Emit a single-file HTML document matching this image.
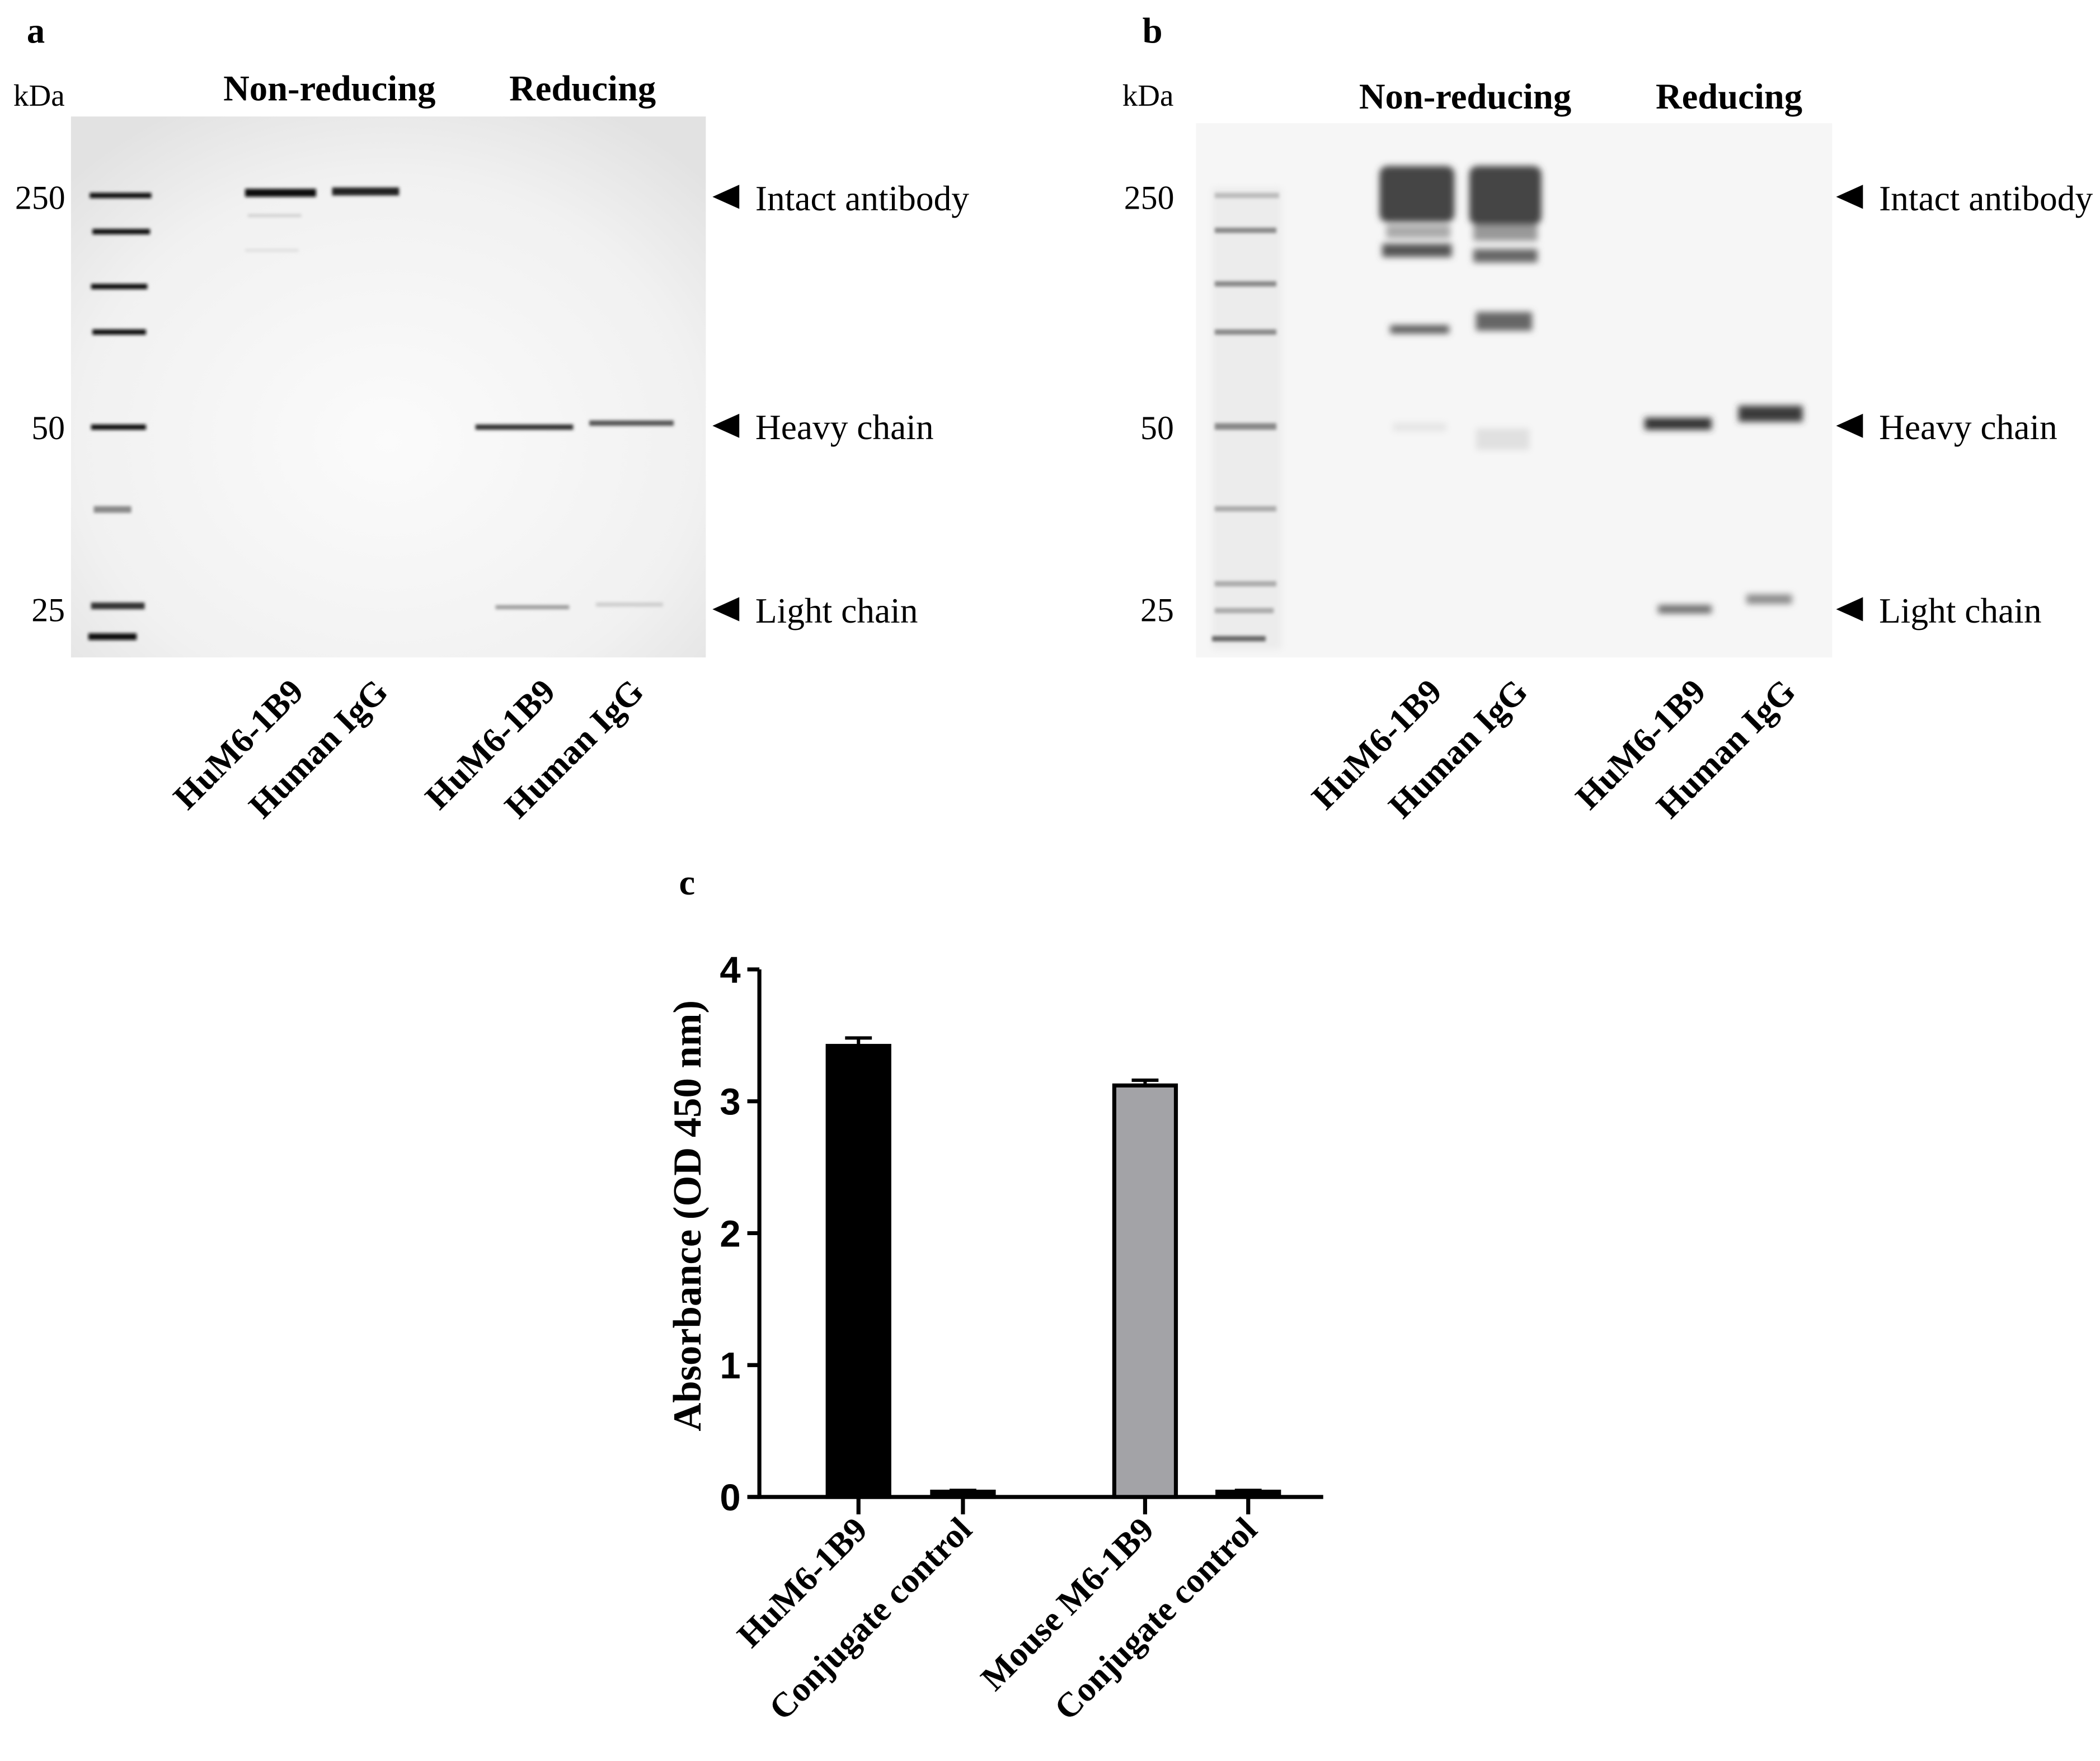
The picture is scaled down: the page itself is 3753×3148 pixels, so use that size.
<!DOCTYPE html>
<html><head><meta charset="utf-8"><style>
html,body{margin:0;padding:0;background:#fff}
svg{display:block}
.serif{font-family:"Liberation Serif",serif}
.sans{font-family:"Liberation Sans",sans-serif}
</style></head><body>
<svg width="3753" height="3148" viewBox="0 0 1568 1315.2" preserveAspectRatio="none" xmlns="http://www.w3.org/2000/svg">
<defs>
<radialGradient id="gA" cx="0.5" cy="0.6" r="0.7"><stop offset="0" stop-color="#fbfbfb"/><stop offset="0.7" stop-color="#f1f1f1"/><stop offset="1" stop-color="#e2e2e2"/></radialGradient>
<filter id="bl"><feGaussianBlur stdDeviation="1.2"/></filter>
<filter id="bl2"><feGaussianBlur stdDeviation="2.5"/></filter>
</defs>
<!-- Panel a -->
<g>
<text x="20" y="32" class="serif" font-weight="bold" font-size="27">a</text>
<text x="10" y="79" class="serif" font-size="23">kDa</text>
<text x="246" y="75" class="serif" font-weight="bold" font-size="27" text-anchor="middle">Non-reducing</text>
<text x="435" y="75" class="serif" font-weight="bold" font-size="27" text-anchor="middle">Reducing</text>
<rect x="53" y="87" width="474" height="404" fill="url(#gA)"/>
<g filter="url(#bl)" fill="#111">
<rect x="67" y="144" width="46" height="4"/><rect x="69" y="171" width="43" height="4"/>
<rect x="68" y="212" width="42" height="4"/><rect x="69" y="246" width="40" height="4"/>
<rect x="68" y="317" width="41" height="4"/><rect x="70" y="378" width="28" height="5" fill="#888"/>
<rect x="68" y="450" width="40" height="5" fill="#333"/><rect x="66" y="473" width="36" height="5"/>
<rect x="183" y="141" width="53" height="6"/><rect x="248" y="140" width="50" height="6" fill="#222"/>
<rect x="185" y="160" width="40" height="2" fill="#ccc"/><rect x="183" y="186" width="40" height="2" fill="#ddd"/>
<rect x="355" y="317" width="73" height="4" fill="#333"/><rect x="440" y="314" width="63" height="4" fill="#555"/>
<rect x="370" y="452" width="55" height="3" fill="#999"/><rect x="445" y="450" width="50" height="3" fill="#ccc"/>
</g>
<g class="serif" font-size="25" text-anchor="middle">
<text x="30" y="156">250</text>
<text x="36" y="328">50</text>
<text x="36" y="464">25</text>
</g>
<g class="serif" font-size="26.5">
<path d="M532 147 L552 138 L552 156Z"/><text x="564" y="157">Intact antibody</text>
<path d="M532 318 L552 309 L552 327Z"/><text x="564" y="328">Heavy chain</text>
<path d="M532 455 L552 446 L552 464Z"/><text x="564" y="465">Light chain</text>
</g>
<g class="serif" font-weight="bold" font-size="26" text-anchor="end">
<text transform="translate(228,518) rotate(-45)">HuM6-1B9</text>
<text transform="translate(291,518) rotate(-45)">Human IgG</text>
<text transform="translate(416,518) rotate(-45)">HuM6-1B9</text>
<text transform="translate(482,518) rotate(-45)">Human IgG</text>
</g>
</g>
<!-- Panel b -->
<g>
<text x="853" y="32" class="serif" font-weight="bold" font-size="27">b</text>
<text x="838" y="79" class="serif" font-size="23">kDa</text>
<text x="1094" y="81" class="serif" font-weight="bold" font-size="27" text-anchor="middle">Non-reducing</text>
<text x="1291" y="81" class="serif" font-weight="bold" font-size="27" text-anchor="middle">Reducing</text>
<rect x="893" y="92" width="475" height="399" fill="#f6f6f6"/>
<g filter="url(#bl2)">
<rect x="905" y="140" width="52" height="345" fill="#ececec"/>
<rect x="1030" y="124" width="56" height="42" rx="6" fill="#444"/><rect x="1097" y="124" width="54" height="44" rx="6" fill="#444"/>
<rect x="1035" y="168" width="48" height="10" fill="#aaa"/><rect x="1100" y="168" width="48" height="12" fill="#999"/>
<rect x="1032" y="182" width="52" height="10" fill="#555"/><rect x="1100" y="186" width="48" height="10" fill="#666"/>
<rect x="1038" y="243" width="44" height="6" fill="#555"/><rect x="1102" y="233" width="42" height="14" fill="#666"/>
<rect x="1102" y="320" width="40" height="16" fill="#e0e0e0"/><rect x="1040" y="316" width="40" height="6" fill="#e4e4e4"/>
<rect x="1228" y="312" width="50" height="9" fill="#333"/><rect x="1298" y="303" width="48" height="12" fill="#3a3a3a"/>
<rect x="1238" y="452" width="40" height="6" fill="#666"/><rect x="1304" y="444" width="34" height="7" fill="#888"/>
</g>
<g filter="url(#bl)" fill="#888">
<rect x="907" y="144" width="48" height="4" fill="#bbb"/><rect x="907" y="170" width="46" height="4"/>
<rect x="907" y="210" width="46" height="4"/><rect x="907" y="246" width="46" height="4"/>
<rect x="907" y="316" width="46" height="5"/><rect x="907" y="378" width="46" height="4" fill="#aaa"/>
<rect x="907" y="434" width="46" height="4" fill="#aaa"/><rect x="907" y="454" width="44" height="4" fill="#aaa"/>
<rect x="905" y="475" width="40" height="4" fill="#666"/>
</g>
<g class="serif" font-size="25" text-anchor="middle">
<text x="858" y="156">250</text>
<text x="864" y="328">50</text>
<text x="864" y="464">25</text>
</g>
<g class="serif" font-size="26.5">
<path d="M1371 147 L1391 138 L1391 156Z"/><text x="1403" y="157">Intact antibody</text>
<path d="M1371 318 L1391 309 L1391 327Z"/><text x="1403" y="328">Heavy chain</text>
<path d="M1371 455 L1391 446 L1391 464Z"/><text x="1403" y="465">Light chain</text>
</g>
<g class="serif" font-weight="bold" font-size="26" text-anchor="end">
<text transform="translate(1078,518) rotate(-45)">HuM6-1B9</text>
<text transform="translate(1142,518) rotate(-45)">Human IgG</text>
<text transform="translate(1275,518) rotate(-45)">HuM6-1B9</text>
<text transform="translate(1342,518) rotate(-45)">Human IgG</text>
</g>
</g>
<!-- Panel c -->
<g>
<text x="507" y="668" class="serif" font-weight="bold" font-size="27">c</text>
<text transform="translate(523,908) rotate(-90)" class="serif" font-weight="bold" font-size="29.5" text-anchor="middle">Absorbance (OD 450 nm)</text>
<g id="chart"></g>
</g>
</svg>
<script>
const categories = ["HuM6-1B9","Conjugate control","Mouse M6-1B9","Conjugate control"];
const values = [3.42, 0.04, 3.12, 0.04];
const errors = [0.06, 0.01, 0.04, 0.01];
const yTicks = [0,1,2,3,4];
const NS="http://www.w3.org/2000/svg";
const g=document.getElementById('chart');
const y0=1118, yTop=724, yMax=4;
function Y(v){return y0-(v/yMax)*(y0-yTop);}
const centers=[641,719,855,932];
function X(i){return centers[i];}
function mk(t,a){const e=document.createElementNS(NS,t);for(const k in a)e.setAttribute(k,a[k]);g.appendChild(e);return e;}
let ax=mk('line',{x1:567,y1:y0+1.5,x2:567,y2:yTop,stroke:'#000','stroke-width':3});


let xx=mk('line',{x1:560,y1:y0,x2:988,y2:y0,stroke:'#000','stroke-width':3});


yTicks.forEach(t=>{
  const l=mk('line',{x1:558,x2:567,y1:Y(t),y2:Y(t),stroke:'#000','stroke-width':3});
  
  
  const tx=mk('text',{x:553,y:Y(t)+10,'text-anchor':'end','font-family':'"Liberation Sans",sans-serif','font-weight':'bold','font-size':28});
  tx.textContent=t;
  
  
});
const fills=['#000','#000','#a3a3a7','#000'];
values.forEach((v,i)=>{
  const w=49,x=X(i)-w/2;
  const r=mk('rect',{x:x+1.5,y:Y(v),width:w-3,height:y0-Y(v),fill:fills[i],stroke:'#000','stroke-width':3});
  
  
  const e=mk('path',{d:`M${X(i)} ${Y(v)} V${Y(v+errors[i])} M${X(i)-10} ${Y(v+errors[i])} H${X(i)+10}`,stroke:'#000','stroke-width':2.5,fill:'none'});
  
  
  const tk=mk('line',{x1:X(i),x2:X(i),y1:y0,y2:y0+13,stroke:'#000','stroke-width':3});
  
  
  const lb=mk('text',{transform:`translate(${X(i)+8},${y0+26}) rotate(-45)`,'text-anchor':'end','font-family':'"Liberation Serif",serif','font-weight':'bold','font-size':26});
  lb.textContent=categories[i];
  
  
});
</script>
</body></html>
